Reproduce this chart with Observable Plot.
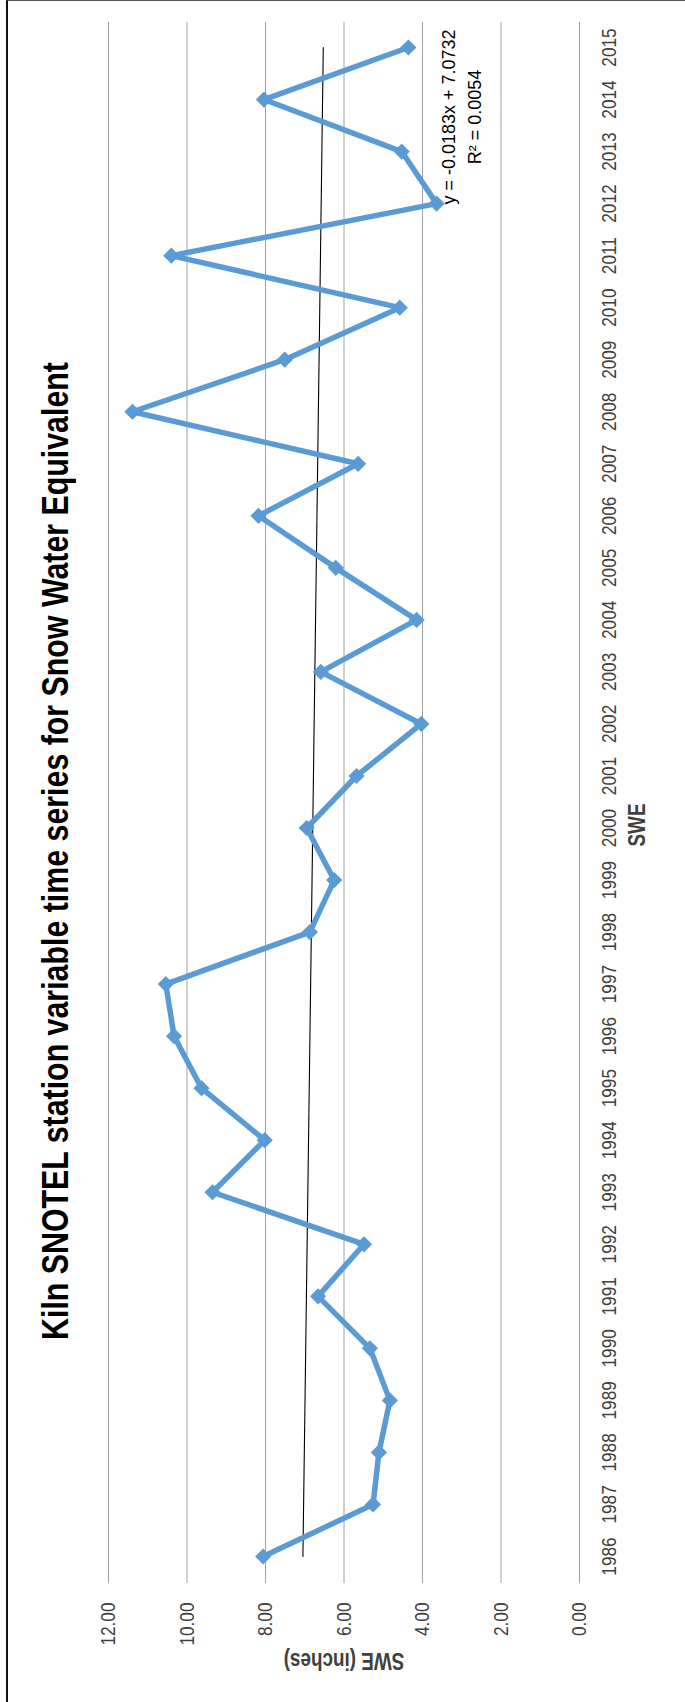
<!DOCTYPE html>
<html>
<head>
<meta charset="utf-8">
<script src="https://cdn.jsdelivr.net/npm/d3@7"></script>
<script src="https://cdn.jsdelivr.net/npm/@observablehq/plot@0.6"></script>
<style>
  html, body { margin: 0; padding: 0; background: #fff; width: 685px; height: 1702px; overflow: hidden; }
  #frame { position: absolute; left: 6px; top: 0; width: 720px; height: 1740px; border-left: 2px solid #111; border-top: 1.5px solid #555; box-sizing: border-box; }
  #land { position: absolute; left: 0; top: 0; width: 1702px; height: 685px; transform-origin: 0 0; transform: translateY(1702px) rotate(-90deg); }
  #chart { position: absolute; left: 0; top: 0; }
  #title { position: absolute; left: 0; top: 37px; width: 1702px; text-align: center; font-family: 'Liberation Sans', Arial, sans-serif; font-weight: bold; font-size: 37px; line-height: 37px; color: #000; white-space: nowrap; transform: scaleX(0.82); transform-origin: 851px 50%; }
</style>
</head>
<body>
<div id="frame"></div>
<div id="land">
  <div id="chart"></div>
  <div id="title">Kiln SNOTEL station variable time series for Snow Water Equivalent</div>
</div>
<script>
// ---- data ----
const years = [1986, 1987, 1988, 1989, 1990, 1991, 1992, 1993, 1994, 1995,
               1996, 1997, 1998, 1999, 2000, 2001, 2002, 2003, 2004, 2005,
               2006, 2007, 2008, 2009, 2010, 2011, 2012, 2013, 2014, 2015];
const swe = [8.06, 5.26, 5.11, 4.83, 5.34, 6.66, 5.49, 9.35, 8.02, 9.63,
             10.33, 10.54, 6.87, 6.25, 6.95, 5.68, 4.03, 6.59, 4.15, 6.21,
             8.18, 5.64, 11.39, 7.51, 4.58, 10.40, 3.64, 4.53, 8.04, 4.36];
const yTicks = [0, 2, 4, 6, 8, 10, 12];
const yAxisTitle = "SWE (inches)";
const xAxisTitle = "SWE";
const trendEquation = "y = -0.0183x + 7.0732";
const trendR2 = "R\u00B2 = 0.0054";

const data = years.map((year, i) => ({year, swe: swe[i]}));

const font = "'Liberation Sans', Arial, sans-serif";

const chart = Plot.plot({
  width: 1702,
  height: 685,
  marginTop: 108,
  marginBottom: 106,
  marginLeft: 119,
  marginRight: 22,
  style: {fontFamily: font, fontSize: "21px", color: "#404040", background: "transparent", overflow: "visible"},
  x: {type: "linear", domain: [1985.5, 2015.5]},
  y: {type: "linear", domain: [0, 12]},
  marks: [
    Plot.gridY(yTicks, {stroke: "#a0a0a0", strokeOpacity: 1, strokeWidth: 1}),
    Plot.axisY(yTicks, {tickSize: 0, tickPadding: 20, tickFormat: d => d.toFixed(2), label: null, fill: "#404040"}),
    Plot.axisX(years, {tickSize: 0, tickPadding: 22, tickFormat: d => String(d), label: null, fill: "#404040"}),
    Plot.linearRegressionY(data, {x: "year", y: "swe", stroke: "#000", strokeWidth: 1.1, ci: 0}),
    Plot.line(data, {x: "year", y: "swe", stroke: "#5B9BD5", strokeWidth: 5.5, strokeLinejoin: "miter"}),
    Plot.dot(data, {x: "year", y: "swe", symbol: "diamond2", r: 7.3, fill: "#5B9BD5", stroke: "none"}),
    Plot.text([yAxisTitle], {frameAnchor: "left", rotate: -90, dx: -78, fontWeight: "bold", fontSize: 23, fill: "#404040", textAnchor: "middle", lineAnchor: "middle"}),
    Plot.text([xAxisTitle], {frameAnchor: "bottom", dx: -23, dy: 58, fontWeight: "bold", fontSize: 23, fill: "#404040", textAnchor: "middle", lineAnchor: "middle"}),
    Plot.text([trendEquation], {frameAnchor: "top-right", dx: -95.5, dy: 334, fontSize: 18, fill: "#000", textAnchor: "middle", lineAnchor: "top", className: "trend-label"}),
    Plot.text([trendR2], {frameAnchor: "top-right", dx: -95.5, dy: 360, fontSize: 18, fill: "#000", textAnchor: "middle", lineAnchor: "top", className: "trend-label"})
  ]
});
document.getElementById("chart").appendChild(chart);

// condense the glyphs horizontally, like the narrow lettering of the reference
const condense = 0.82;
chart.querySelectorAll("text").forEach(t => {
  if (t.closest(".trend-label")) return;
  const spans = t.querySelectorAll("tspan");
  const targets = spans.length ? Array.from(spans) : [t];
  targets.forEach(el => {
    const len = el.getComputedTextLength();
    if (len > 0) {
      el.setAttribute("textLength", (len * condense).toFixed(2));
      el.setAttribute("lengthAdjust", "spacingAndGlyphs");
    }
  });
});
</script>
</body>
</html>
